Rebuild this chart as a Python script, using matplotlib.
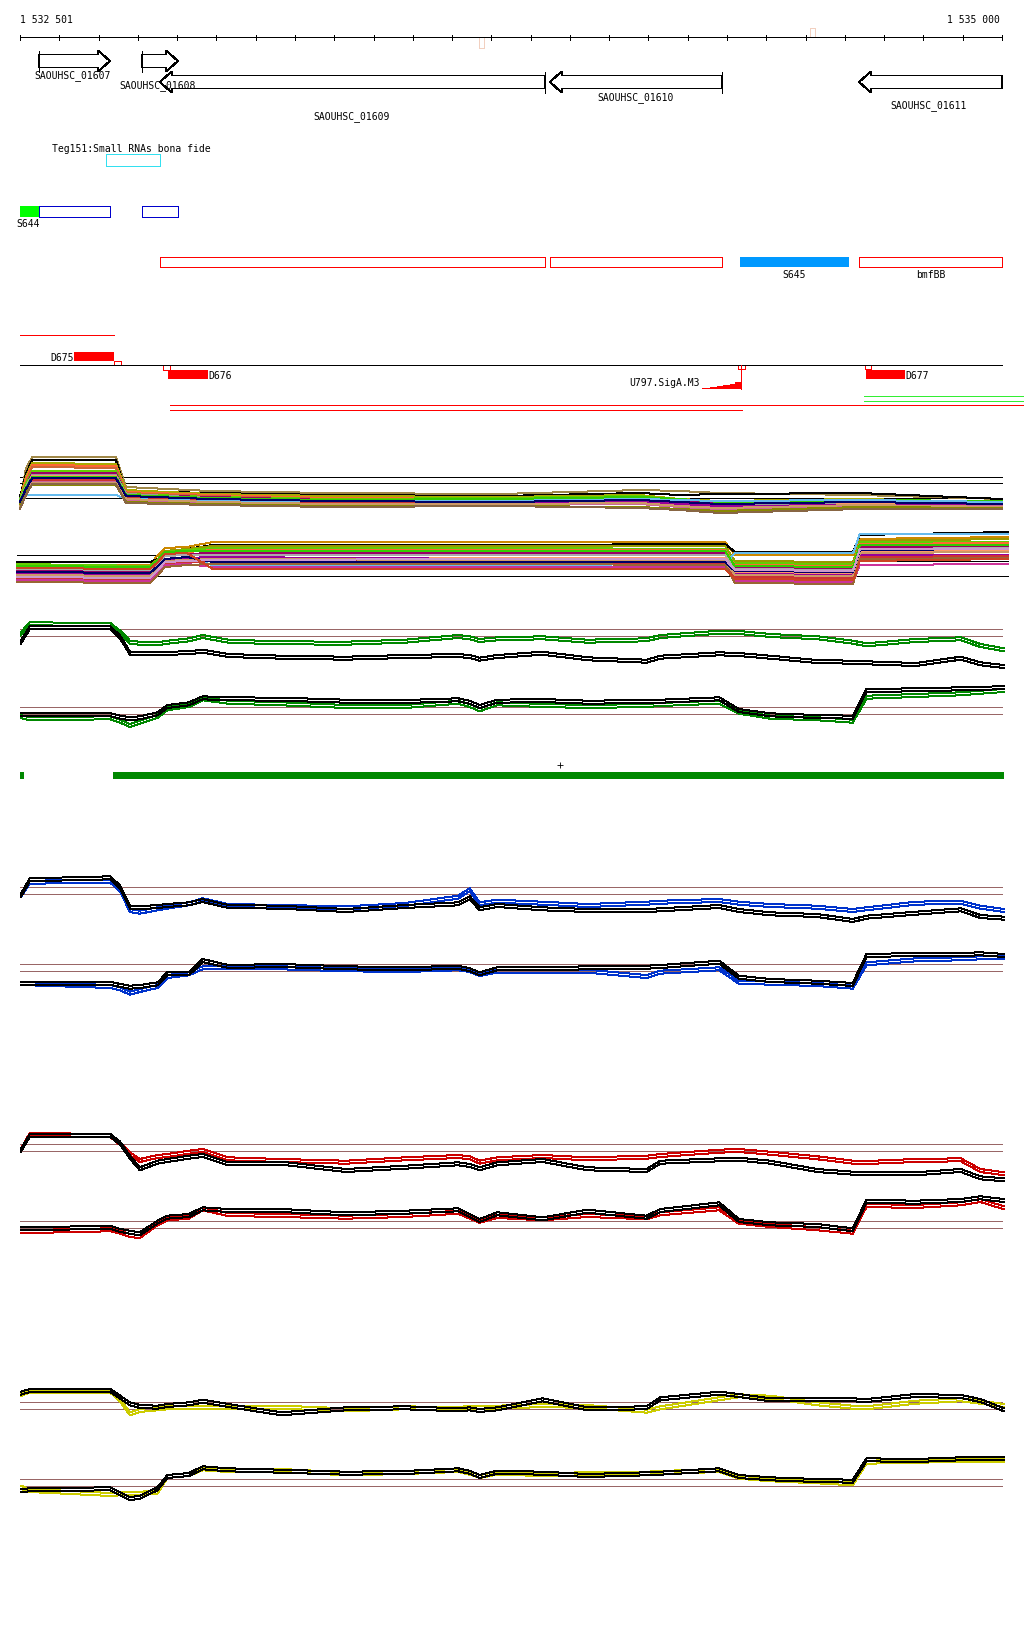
"""Genome browser view, S. aureus region 1 532 501 - 1 535 000, with tiling-array profiles."""

import numpy as np
import matplotlib
matplotlib.use("Agg")
import matplotlib.pyplot as plt
from matplotlib.patches import Polygon, Rectangle
from matplotlib.transforms import offset_copy

W, H = 1024, 1640
BP_PER_PX = 2500 / 982
XMIN = 1532500 - 20 * BP_PER_PX
XMAX = XMIN + W * BP_PER_PX
FONT = dict(family="DejaVu Sans Mono", fontsize=7)
LW = 0.72  # one pixel at 100 dpi

# ---------------- annotation data (genomic coordinates) ----------------
gene_names = ["SAOUHSC_01607", "SAOUHSC_01608", "SAOUHSC_01609", "SAOUHSC_01610", "SAOUHSC_01611"]
gene_start = [1532548, 1532811, 1532856, 1533849, 1534636]
gene_end = [1532729, 1532902, 1533837, 1534287, 1535000]
gene_strand = ["+", "+", "-", "-", "-"]
gene_label_pos = [1532635, 1532851, 1533345, 1534066, 1534814]

srna_start, srna_end = 1532719, 1532856

seg_start = [1532500, 1532548, 1532811]
seg_end = [1532548, 1532729, 1532902]

utr_start = [1532856, 1533849, 1534636]
utr_end = [1533837, 1534287, 1535000]
s645_start, s645_end = 1534333, 1534611

u797_pos = [1534235, 1534257, 1534274, 1534290, 1534307, 1534320, 1534335]
u797_score = [1.3, 2.3, 3.3, 4.3, 5.3, 6.7, 7.3]

# ---------------- multi-condition profiles ----------------
mc_up_pos = [1532500, 1532515, 1532531, 1532744, 1532770, 1532984, 1533289,
             1533722, 1534078, 1534180, 1534282, 1534638, 1535000]
mc_up = [
    [20, 50, 62, 62, 32, 28, 26, 25, 29, 28, 26, 24, 20],
    [22, 45, 59, 59, 28, 26, 24, 23, 26, 24, 25, 26, 20],
    [20, 42, 56, 55, 29, 25, 23, 22, 24, 20, 18, 20, 17],
    [18, 40, 54, 53, 27, 24, 21, 20, 21, 18, 15, 17, 15],
    [15, 36, 52, 51, 26, 23, 20, 19, 20, 17, 14, 16, 14],
    [20, 35, 48, 48, 25, 22, 20, 21, 23, 19, 16, 18, 17],
    [17, 32, 46, 46, 24, 22, 19, 18, 20, 18, 15, 17, 16],
    [19, 32, 44, 44, 25, 21, 18, 17, 19, 16, 13, 15, 13],
    [14, 30, 43, 43, 23, 20, 17, 16, 18, 15, 12, 15, 14],
    [18, 31, 42, 42, 24, 21, 19, 20, 22, 20, 17, 19, 18],
    [16, 28, 40, 40, 22, 20, 17, 17, 18, 15, 13, 14, 14],
    [12, 27, 39, 39, 21, 18, 16, 15, 16, 13, 11, 13, 12],
    [16, 24, 24, 24, 20, 18, 18, 18, 20, 19, 18, 19, 17],
    [14, 26, 37, 37, 19, 17, 15, 14, 15, 12, 10, 13, 13],
    [13, 25, 36, 36, 20, 17, 15, 15, 16, 13, 11, 14, 12],
    [15, 28, 34, 34, 17, 15, 13, 13, 12, 10, 8, 12, 11],
    [17, 30, 41, 41, 23, 20, 18, 17, 19, 17, 15, 17, 15],
    [10, 24, 35, 35, 16, 14, 12, 13, 11, 9, 6, 10, 10],
]
mc_up_ref = [42, 36, 21]

mc_dn_pos = [1532492, 1532831, 1532851, 1532869, 1532925, 1532991, 1533722,
             1534295, 1534320, 1534621, 1534638, 1535015]
mc_dn = [
    [29, 29, 39, 46, 47, 52, 52, 52, 39, 39, 55, 57],
    [32, 32, 35, 43, 45, 49, 49, 50, 42, 42, 59, 62],
    [29, 28, 35, 43, 45, 48, 48, 48, 33, 32, 53, 55],
    [30, 28, 34, 42, 44, 46, 46, 45, 31, 30, 52, 52],
    [27, 26, 33, 40, 42, 44, 44, 44, 29, 28, 50, 51],
    [24, 23, 30, 38, 40, 41, 41, 41, 27, 26, 47, 48],
    [21, 20, 27, 35, 36, 29, 29, 30, 41, 41, 60, 60],
    [25, 24, 31, 38, 39, 39, 39, 39, 25, 24, 45, 46],
    [18, 17, 25, 33, 35, 36, 36, 36, 22, 21, 43, 44],
    [21, 20, 27, 34, 36, 37, 35, 34, 20, 19, 39, 39],
    [16, 15, 23, 30, 32, 33, 32, 31, 17, 16, 37, 38],
    [14, 13, 21, 29, 30, 27, 27, 27, 13, 12, 29, 30],
    [19, 18, 25, 33, 34, 35, 34, 33, 19, 18, 41, 42],
    [12, 11, 19, 27, 29, 30, 30, 29, 11, 10, 35, 36],
    [22, 21, 28, 35, 37, 32, 32, 32, 23, 22, 44, 45],
    [28, 27, 34, 42, 43, 43, 43, 43, 28, 27, 49, 49],
    [17, 16, 24, 32, 33, 34, 35, 35, 24, 23, 45, 45],
    [26, 25, 32, 40, 41, 25, 25, 25, 15, 14, 33, 35],
]
mc_dn_ref = [39, 33, 18]

# ---------------- two-condition profiles (shared probe grid) ----------------
probe_pos = [1532502, 1532525, 1532730, 1532755, 1532780, 1532805, 1532850, 1532875,
             1532930, 1532965, 1533030, 1533165, 1533330, 1533480, 1533615, 1533645,
             1533670, 1533715, 1533830, 1533945, 1534095, 1534130, 1534280, 1534330,
             1534410, 1534530, 1534620, 1534655, 1534780, 1534895, 1534945, 1535005]

green_up_ref = [40, 33]
green_up_blk = [28.3, 42.7, 42.7, 33.3, 17.3, 16.7, 16.7, 17.3, 17.7, 19.3, 15, 13.3, 12.3, 14, 15, 14,
                11.3, 14, 17.3, 11.7, 9.3, 13.3, 16.7, 16, 13.3, 9, 8.3, 7.7, 6, 12.3, 6.7, 4]
green_up_col = [36.7, 46.7, 46, 38.3, 28.3, 27.3, 26.7, 28.3, 30.7, 34, 29.3, 27.7, 27.3, 29.3, 34, 32.7,
                30, 31.7, 32.7, 29.3, 30.7, 34, 38.3, 38, 35, 32.7, 28.3, 25.7, 30, 31.7, 25, 20.7]
green_dn_ref = [22, 15]
green_dn_blk = [15.7, 15.7, 15.7, 13.3, 11.7, 12.7, 16.7, 24, 26.7, 32.7, 31.7, 31.3, 29.3, 29, 30.7, 28.3,
                24, 29.3, 30, 28.3, 29, 29.3, 31.7, 20, 15.7, 14, 13.3, 40, 40.7, 41.7, 42.3, 42.7]
green_dn_col = [14, 11.7, 12.7, 9.3, 5, 8.3, 14, 21.7, 25, 31.7, 28.3, 26.7, 24, 24, 28.3, 25,
                20.7, 26.7, 25, 24, 25, 26, 28.3, 18.3, 13.3, 11.7, 9.3, 33.3, 35, 36.7, 38.3, 40]

blue_up_ref = [41.7, 35]
blue_up_blk = [35, 50.7, 52.7, 43.3, 23.3, 22.7, 24, 25, 26.7, 30, 24, 23.3, 20, 24, 26.7, 32.7,
               21.7, 25, 21.7, 20, 20, 20.7, 24, 20, 16.7, 15, 10, 13.3, 17.3, 20.7, 14, 12.3]
blue_up_col = [35, 48.3, 49.3, 40, 20, 18.3, 21.7, 23.3, 26.7, 30.7, 25, 24, 22.7, 26, 33.3, 40.7,
               26.7, 29.3, 27.3, 25, 27.3, 28.3, 30, 27.3, 25, 23.3, 20, 21.7, 27.3, 28.3, 23.3, 20]
blue_dn_ref = [35, 27.7]
blue_dn_blk = [17.3, 17.3, 17.3, 15, 13.3, 14, 16.7, 26.7, 26.7, 40, 34, 35, 32.7, 31.7, 33.3, 30.7,
               26.7, 31.7, 31.7, 32.7, 33.3, 34, 38.3, 23.3, 20, 18.3, 16, 45, 46, 46, 46.7, 45]
blue_dn_col = [17.3, 16.7, 14, 11.7, 7.3, 10, 14, 24, 26.7, 32.7, 33.3, 32.7, 30.7, 30, 31.7, 30,
               26, 29.3, 29.3, 29.3, 24, 28.3, 31.7, 18.3, 17.3, 16, 13.3, 36.7, 40.7, 41.7, 42.7, 43.3]

red_up_ref = [45, 37.7]
red_up_blk = [40, 55, 55, 47.3, 33.3, 21.7, 28.3, 30, 33.3, 35, 26.7, 27.3, 20, 23.3, 26.7, 25,
              21.7, 26.7, 30, 21.7, 20, 28.3, 30.7, 31.3, 28.3, 20, 17.3, 16.7, 16.7, 20, 12.7, 10.7]
red_up_col = [40, 56, 55, 46.7, 36.7, 30, 34, 35, 38.3, 40, 31.7, 30, 28.3, 31.7, 34, 32.7,
              28.3, 31.7, 34, 31.7, 33.3, 35, 39.3, 40, 37.3, 32.7, 28.3, 28, 30, 30.7, 20, 16.7]
red_dn_ref = [27.7, 20.7]
red_dn_blk = [22.3, 21.7, 23.3, 20, 18.3, 16.7, 28.3, 33.3, 35, 41.7, 40, 40, 36.7, 38.3, 40.7, 35,
              30, 36.7, 31.7, 39.3, 33.3, 40, 46.7, 30, 26.7, 25, 20.7, 49.3, 48.3, 50, 52.7, 50]
red_dn_col = [19, 19, 20.7, 18.3, 15, 14, 26.7, 31.7, 33.3, 41.7, 36, 35, 33.3, 35, 38.3, 33.3,
              29.3, 34, 31.7, 35, 32.7, 36.7, 41.7, 28.3, 25, 21.7, 18.3, 45, 44, 46.7, 50, 42.7]

yel_up_ref = [36.7, 30]
yel_up_blk = [47.3, 50, 50, 43.3, 36.7, 34, 33.3, 35, 36.7, 39.3, 35, 26.7, 31.7, 32.7, 30.7, 31.7,
              30, 31.7, 40.7, 31.7, 32.7, 41.7, 47.3, 45, 40.7, 40.7, 40.7, 40, 45, 44, 40, 30.7]
yel_up_col = [46, 49.3, 49.3, 40, 26.7, 30, 31.7, 32.7, 33.3, 33.3, 32.7, 33.3, 30.7, 32.7, 31.7, 33.3,
              32.7, 33.3, 35, 34, 29.3, 32.7, 41.7, 44.7, 43.3, 36.7, 33.3, 32.7, 38.3, 40.7, 38.3, 35]
yel_dn_ref = [30, 22.7]
yel_dn_blk = [20, 20.7, 21.7, 16.7, 11.7, 13.3, 21.7, 34, 36, 42.7, 40.7, 39.3, 37.3, 38, 40.7, 38.3,
              34, 38.3, 37.3, 35, 36.7, 37.3, 40.7, 34, 31.7, 30, 29.3, 50.7, 50, 51.7, 52.3, 52.3]
yel_dn_col = [23.3, 20, 16, 16.7, 16.7, 17.3, 18.3, 34, 36, 41.7, 40, 40, 36.7, 38, 40, 37.3,
              34, 37.3, 36, 36.7, 37.3, 38, 40, 33.3, 30.7, 28.7, 26.7, 48.3, 49.3, 50, 50, 50]


def panel_axes(fig, bottom_px, height_px):
    a = fig.add_axes([0, 1 - bottom_px / H, 1, height_px / H])
    a.set_xlim(XMIN, XMAX)
    a.set_ylim(0, height_px)
    a.axis("off")
    return a


def gene_arrow(ax, start, end, strand, yc, bar=True):
    head, b, hh = 30, 6.5, 10.5
    if strand == "+":
        hb, tail, tip = end - head, start, end
    else:
        hb, tail, tip = start + head, end, start
    xs = [tail, hb, hb, tip, hb, hb, tail]
    ys = [yc - b, yc - b, yc - hh, yc, yc + hh, yc + b, yc + b]
    ax.add_patch(Polygon(list(zip(xs, ys)), closed=True, fill=False, ec="black", lw=LW,
                         antialiased=False))
    if bar:
        ax.vlines(tail, yc - hh, yc + hh, color="black", lw=LW, antialiased=False)


def box(ax, x0, x1, y0, y1, ec=None, fc=None):
    ax.add_patch(Rectangle((x0, y0), x1 - x0, y1 - y0, fill=fc is not None,
                           fc=fc, ec=ec if ec else "none", lw=LW, antialiased=False))


fig = plt.figure(figsize=(W / 100, H / 100), dpi=100)
ax = fig.add_axes([0, 0, 1, 1])
ax.set_xlim(XMIN, XMAX)
ax.set_ylim(H, 0)
ax.axis("off")

# ruler
ax.hlines(38, 1532500, 1535000, color="black", lw=LW, antialiased=False)
ax.vlines(np.arange(1532500, 1535001, 100), 36, 41, color="black", lw=LW, antialiased=False)
ax.text(1532500, 20, "1 532 501", ha="left", va="center", **FONT)
ax.text(1534995, 20, "1 535 000", ha="right", va="center", **FONT)
box(ax, 1533669, 1533681, 38, 49, ec="#f2d0c0")
box(ax, 1534512, 1534524, 29, 38, ec="#f2d0c0")

# genes
gene_y = {"+": 62, "-": 83}
label_y = [76, 86, 117, 98, 106]
for i, name in enumerate(gene_names):
    gene_arrow(ax, gene_start[i], gene_end[i], gene_strand[i], gene_y[gene_strand[i]],
               bar=(i != 4))
    ax.text(gene_label_pos[i], label_y[i], name, ha="center", va="center", **FONT)

# small RNA
ax.text(1532581, 149, "Teg151:Small RNAs bona fide", ha="left", va="center", **FONT)
box(ax, srna_start, srna_end, 155, 167, ec="#33e0f0")

# segments
box(ax, seg_start[0], seg_end[0], 207, 218, fc="#00ff00")
for s, e in zip(seg_start[1:], seg_end[1:]):
    box(ax, s, e, 207, 218, ec="#0000cc")
ax.text(1532492, 224, "S644", ha="left", va="center", **FONT)

for s, e in zip(utr_start, utr_end):
    box(ax, s, e, 258, 268, ec="#ff0000")
box(ax, s645_start, s645_end, 258, 268, fc="#0099ff")
ax.text((s645_start + s645_end) / 2, 275, "S645", ha="center", va="center", **FONT)
ax.text((utr_start[2] + utr_end[2]) / 2, 275, "bmfBB", ha="center", va="center", **FONT)

# transcripts / promoters
ax.hlines(336, 1532500, 1532739, color="#ff0000", lw=LW, antialiased=False)
ax.hlines(366, 1532500, 1535000, color="black", lw=LW, antialiased=False)
box(ax, 1532637, 1532739, 353, 362, fc="#ff0000")
box(ax, 1532739, 1532757, 362, 366, ec="#ff0000")
ax.text(1532637, 358, "D675", ha="right", va="center", **FONT)
box(ax, 1532864, 1532882, 366, 371, ec="#ff0000")
box(ax, 1532877, 1532979, 371, 380, fc="#ff0000")
ax.text(1532979, 376, "D676", ha="left", va="center", **FONT)
box(ax, 1534651, 1534666, 366, 370, ec="#ff0000")
box(ax, 1534654, 1534753, 371, 380, fc="#ff0000")
ax.text(1534753, 376, "D677", ha="left", va="center", **FONT)
ax.fill_between(u797_pos, 390, 390 - np.array(u797_score), step="post", color="#ff0000",
                lw=0, antialiased=False)
ax.vlines(u797_pos[-1], 366, 390, color="#ff0000", lw=LW, antialiased=False)
box(ax, 1534327, 1534345, 366, 370, ec="#ff0000")
ax.text(1534231, 383, "U797.SigA.M3", ha="right", va="center", **FONT)

ax.hlines([397, 402], 1534649, XMAX, color="#33ee33", lw=LW, antialiased=False)
ax.hlines(406, 1532882, XMAX, color="#ff0000", lw=LW, antialiased=False)
ax.hlines(411, 1532882, 1534338, color="#ff0000", lw=LW, antialiased=False)

# green bar and marker
box(ax, 1532500, 1532510, 773, 780, fc="#008800")
box(ax, 1532737, 1535005, 773, 780, fc="#008800")
ax.plot([1533875], [766], marker="+", ms=4, color="black", mew=0.6)

# multi-condition profiles
up_colors = ["#a08848", "black", "#aaaa00", "#ff6633", "#cc6633", "#66cc00", "#990066", "#999999",
             "#ff9966", "#33cc00", "#990099", "#cc3333", "#66bbee", "#cc6699", "#cc9966", "#888800",
             "#000066", "#886644"]
dn_colors = ["#cc8800", "black", "#999900", "#66cc00", "#ff6633", "#990066", "#66bbee", "#aaaaaa",
             "#ff9966", "#990099", "#cc3333", "#cc3399", "#cc9966", "#996633", "#000066", "#33cc00",
             "#cc99cc", "#cc4422"]
pa = panel_axes(fig, 520, 80)
pa.hlines(mc_up_ref, 1532500, 1535000, color="black", lw=LW, antialiased=False)
for vals, c in zip(mc_up, up_colors):
    pa.plot(mc_up_pos, vals, color=c, lw=LW, antialiased=False)
pa = panel_axes(fig, 595, 75)
pa.hlines(mc_dn_ref, 1532492, 1535015, color="black", lw=LW, antialiased=False)
for vals, c in zip(mc_dn, dn_colors):
    pa.plot(mc_dn_pos, vals, color=c, lw=LW, antialiased=False)

# two-condition profiles (each drawn as a close replicate pair)
panels = [
    (670, green_up_ref, green_up_blk, green_up_col, "#008800"),
    (730, green_dn_ref, green_dn_blk, green_dn_col, "#008800"),
    (930, blue_up_ref, blue_up_blk, blue_up_col, "#0033cc"),
    (1000, blue_dn_ref, blue_dn_blk, blue_dn_col, "#0033cc"),
    (1190, red_up_ref, red_up_blk, red_up_col, "#cc0000"),
    (1250, red_dn_ref, red_dn_blk, red_dn_col, "#cc0000"),
    (1440, yel_up_ref, yel_up_blk, yel_up_col, "#cccc00"),
    (1510, yel_dn_ref, yel_dn_blk, yel_dn_col, "#cccc00"),
]
for bottom, ref, blk, col, colour in panels:
    pa = panel_axes(fig, bottom, 70)
    pa.hlines(ref, 1532500, 1535000, color="#996666", lw=LW, antialiased=False)
    shifted = offset_copy(pa.transData, fig=fig, x=0, y=-3, units="dots")
    for vals, c in ((col, colour), (blk, "black")):
        pa.plot(probe_pos, vals, color=c, lw=LW, antialiased=False)
        pa.plot(probe_pos, vals, color=c, lw=LW, antialiased=False, transform=shifted)

fig.savefig("out.png", dpi=100)
plt.close(fig)
